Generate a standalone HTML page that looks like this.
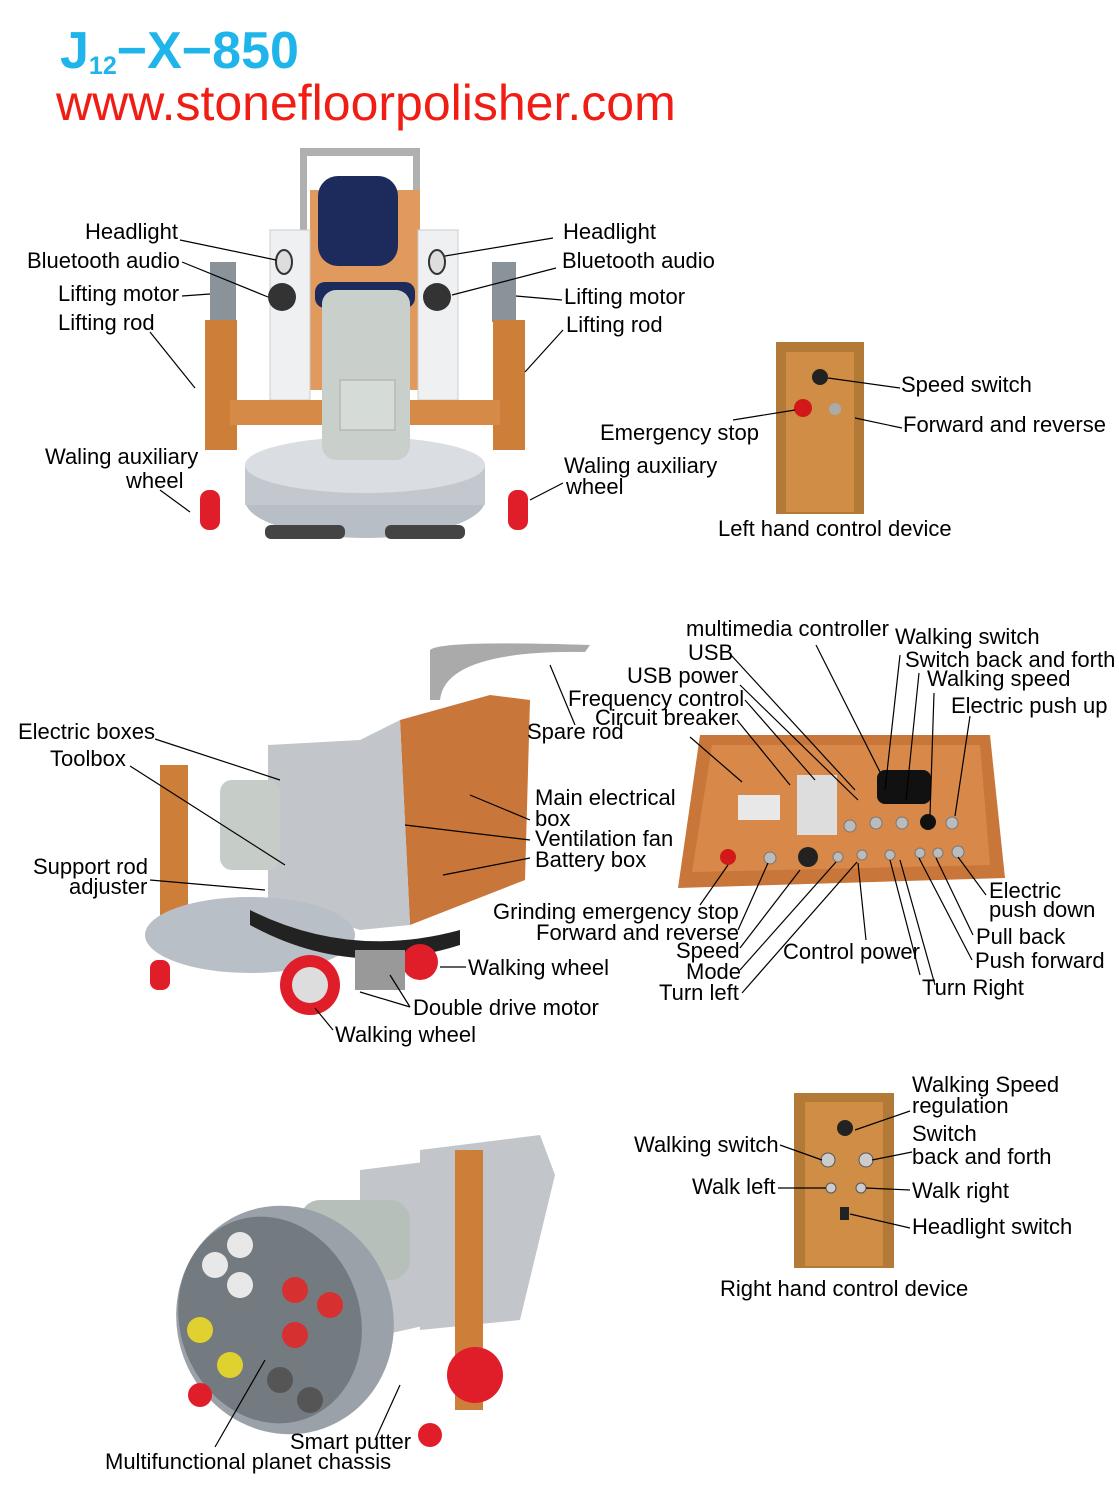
<!DOCTYPE html>
<html><head><meta charset="utf-8"><style>
html,body{margin:0;padding:0;background:#fff;}
svg{display:block;}
text{font-family:"Liberation Sans",Arial,sans-serif;font-size:22px;fill:#000;}
</style></head><body>
<svg width="1119" height="1486" viewBox="0 0 1119 1486" xmlns="http://www.w3.org/2000/svg">
<!-- title -->
<text x="60" y="68" style="font-size:52px;fill:#1fb5ea;font-weight:bold">J<tspan style="font-size:25px" dy="6">12</tspan><tspan dy="-6">−X−850</tspan></text>
<text x="56" y="120" style="font-size:50px;fill:#f01d14">www.stonefloorpolisher.com</text>

<!-- TOP MACHINE -->
<g>
<rect x="300" y="148" width="120" height="8" rx="4" fill="#b0b0b0"/>
<rect x="300" y="148" width="7" height="120" fill="#b0b0b0"/><rect x="413" y="148" width="7" height="120" fill="#b0b0b0"/>
<rect x="310" y="190" width="110" height="200" fill="#e09a5e"/>
<rect x="318" y="176" width="80" height="90" rx="20" fill="#1c2a5c"/>
<rect x="315" y="282" width="100" height="26" rx="10" fill="#1c2a5c"/>
<rect x="270" y="230" width="40" height="170" fill="#eef0f2" stroke="#ccc"/>
<rect x="418" y="230" width="40" height="170" fill="#eef0f2" stroke="#ccc"/>
<circle cx="282" cy="297" r="14" fill="#333"/><circle cx="437" cy="297" r="14" fill="#333"/>
<ellipse cx="284" cy="262" rx="8" ry="12" fill="#ddd" stroke="#333" stroke-width="2"/>
<ellipse cx="437" cy="262" rx="8" ry="12" fill="#ddd" stroke="#333" stroke-width="2"/>
<rect x="210" y="262" width="26" height="60" fill="#8a9399"/><rect x="492" y="262" width="24" height="60" fill="#8a9399"/>
<rect x="205" y="320" width="32" height="130" fill="#cd7f3a"/><rect x="493" y="320" width="32" height="130" fill="#cd7f3a"/>
<rect x="230" y="400" width="270" height="25" fill="#d58a48"/>
<ellipse cx="365" cy="500" rx="120" ry="38" fill="#b8bec5"/>
<rect x="245" y="465" width="240" height="40" fill="#c3c8ce"/>
<ellipse cx="365" cy="465" rx="120" ry="28" fill="#dadde1"/>
<rect x="322" y="290" width="88" height="170" rx="14" fill="#c9d0cb"/>
<rect x="340" y="380" width="55" height="50" fill="#d5dbd6" stroke="#aaa"/>
<rect x="265" y="525" width="80" height="14" rx="6" fill="#444"/><rect x="385" y="525" width="80" height="14" rx="6" fill="#444"/>
<rect x="200" y="490" width="20" height="40" rx="9" fill="#e01e2a"/><rect x="508" y="490" width="20" height="40" rx="9" fill="#e01e2a"/>
</g>

<!-- left hand control device -->
<rect x="776" y="342" width="88" height="172" fill="#b27a36"/>
<rect x="786" y="352" width="68" height="160" fill="#d08d45"/>
<circle cx="820" cy="377" r="8" fill="#222"/>
<circle cx="803" cy="408" r="9" fill="#d21818"/>
<circle cx="835" cy="409" r="6" fill="#aaa"/>

<!-- MIDDLE MACHINE -->
<g>
<path d="M430 650 Q440 640 590 645 L585 652 Q445 650 440 700 L430 700 Z" fill="#aaa"/>
<path d="M400 720 L490 695 L530 700 L525 880 L410 925 Z" fill="#c9763a"/>
<path d="M268 745 L360 740 L400 720 L410 925 L360 930 L268 900 Z" fill="#c2c6ca"/>
<rect x="220" y="780" width="60" height="90" rx="12" fill="#c6cdc8"/>
<rect x="160" y="765" width="28" height="180" fill="#cd7f3a"/>
<ellipse cx="250" cy="935" rx="105" ry="38" fill="#b9bfc6"/>
<path d="M250 910 Q350 960 460 930 L460 945 Q350 980 250 925 Z" fill="#222"/>
<circle cx="310" cy="985" r="30" fill="#e01e2a"/><circle cx="310" cy="985" r="18" fill="#ddd"/>
<circle cx="420" cy="962" r="18" fill="#e01e2a"/>
<rect x="355" y="950" width="50" height="40" fill="#999"/>
<rect x="150" y="960" width="20" height="30" rx="8" fill="#e01e2a"/>
</g>

<!-- control panel -->
<path d="M700 735 L990 735 L1005 878 L678 888 Z" fill="#c9763a"/>
<path d="M712 745 L980 745 L990 865 L692 872 Z" fill="#d8894a"/>
<rect x="738" y="795" width="42" height="25" fill="#e8e8e8"/>
<rect x="797" y="775" width="40" height="60" fill="#ddd"/>
<rect x="877" y="770" width="54" height="34" rx="8" fill="#111"/>
<circle cx="728" cy="857" r="8" fill="#d21818"/>
<circle cx="808" cy="857" r="10" fill="#222"/>
<circle cx="928" cy="822" r="8" fill="#111"/>
<g fill="#bbb" stroke="#777"><circle cx="770" cy="858" r="6"/><circle cx="850" cy="826" r="6"/><circle cx="876" cy="823" r="6"/><circle cx="902" cy="823" r="6"/><circle cx="952" cy="823" r="6"/><circle cx="838" cy="857" r="5"/><circle cx="862" cy="855" r="5"/><circle cx="890" cy="855" r="5"/><circle cx="920" cy="853" r="5"/><circle cx="938" cy="853" r="5"/><circle cx="958" cy="852" r="6"/></g>

<!-- BOTTOM MACHINE -->
<g>
<path d="M420 1150 L540 1135 L555 1175 L520 1320 L420 1330 Z" fill="#c2c6ca"/>
<path d="M360 1170 L440 1160 L450 1320 L360 1340 Z" fill="#c2c6ca"/>
<rect x="300" y="1200" width="110" height="80" rx="20" fill="#b7bfba"/>
<rect x="455" y="1150" width="28" height="260" fill="#cd7f3a"/>
<ellipse cx="285" cy="1320" rx="108" ry="115" fill="#9aa1a8" transform="rotate(-20 285 1320)"/>
<ellipse cx="270" cy="1320" rx="90" ry="105" fill="#737a80" transform="rotate(-20 270 1320)"/>
<g fill="#e8e8e8"><circle cx="215" cy="1265" r="13"/><circle cx="240" cy="1245" r="13"/><circle cx="240" cy="1285" r="13"/></g>
<g fill="#d63030"><circle cx="295" cy="1290" r="13"/><circle cx="330" cy="1305" r="13"/><circle cx="295" cy="1335" r="13"/></g>
<g fill="#e0d030"><circle cx="200" cy="1330" r="13"/><circle cx="230" cy="1365" r="13"/></g>
<g fill="#555"><circle cx="280" cy="1380" r="13"/><circle cx="310" cy="1400" r="13"/></g>
<circle cx="475" cy="1375" r="28" fill="#e01e2a"/>
<circle cx="200" cy="1395" r="12" fill="#e01e2a"/><circle cx="430" cy="1435" r="12" fill="#e01e2a"/>
</g>

<!-- right hand control device -->
<rect x="794" y="1093" width="100" height="175" fill="#b27a36"/>
<rect x="805" y="1102" width="78" height="164" fill="#d08d45"/>
<circle cx="845" cy="1128" r="8" fill="#222"/>
<g fill="#ccc" stroke="#555"><circle cx="828" cy="1160" r="7"/><circle cx="866" cy="1160" r="7"/><circle cx="831" cy="1188" r="5"/><circle cx="861" cy="1188" r="5"/></g>
<rect x="840" y="1207" width="9" height="13" fill="#222"/>

<!-- leader lines -->
<g stroke="#000" stroke-width="1.2" fill="none">
<path d="M180 240 L276 260"/><path d="M182 262 L268 297"/><path d="M182 296 L210 294"/><path d="M150 332 L195 388"/><path d="M160 490 L190 512"/>
<path d="M553 238 L445 256"/><path d="M556 268 L452 295"/><path d="M562 300 L516 296"/><path d="M563 330 L525 372"/><path d="M563 483 L530 500"/>
<path d="M733 420 L795 410"/><path d="M900 388 L828 378"/><path d="M902 428 L855 418"/>
<path d="M816 645 L880 772"/><path d="M900 655 L885 790"/><path d="M731 655 L855 790"/><path d="M919 673 L906 800"/><path d="M740 685 L858 800"/><path d="M934 693 L930 815"/><path d="M745 700 L815 780"/><path d="M737 720 L790 785"/><path d="M970 716 L955 816"/><path d="M690 737 L742 782"/>
<path d="M550 665 L575 725"/><path d="M155 739 L280 780"/><path d="M130 766 L285 865"/><path d="M470 795 L530 820"/><path d="M405 825 L530 840"/><path d="M443 875 L530 858"/>
<path d="M150 880 L265 890"/><path d="M700 905 L728 865"/><path d="M738 930 L768 863"/><path d="M740 948 L800 870"/><path d="M740 970 L836 862"/><path d="M742 993 L857 862"/><path d="M866 940 L858 863"/><path d="M920 975 L890 860"/><path d="M986 895 L958 857"/><path d="M973 935 L936 858"/><path d="M972 960 L919 858"/><path d="M935 985 L900 860"/>
<path d="M466 967 L440 967"/><path d="M410 1007 L360 992"/><path d="M410 1007 L390 975"/><path d="M333 1030 L315 1008"/>
<path d="M910 1111 L855 1130"/><path d="M780 1145 L822 1160"/><path d="M912 1152 L872 1160"/><path d="M778 1188 L826 1188"/><path d="M910 1190 L866 1188"/><path d="M910 1228 L850 1214"/>
<path d="M215 1447 L265 1360"/><path d="M375 1440 L400 1385"/>
</g>

<!-- labels -->
<text x="85" y="239">Headlight</text>
<text x="27" y="268">Bluetooth audio</text>
<text x="58" y="301">Lifting motor</text>
<text x="58" y="330">Lifting rod</text>
<text x="45" y="464">Waling auxiliary</text>
<text x="126" y="488">wheel</text>
<text x="563" y="239">Headlight</text>
<text x="562" y="268">Bluetooth audio</text>
<text x="564" y="304">Lifting motor</text>
<text x="566" y="332">Lifting rod</text>
<text x="564" y="473">Waling auxiliary</text>
<text x="566" y="494">wheel</text>
<text x="600" y="440">Emergency stop</text>
<text x="901" y="392">Speed switch</text>
<text x="903" y="432">Forward and reverse</text>
<text x="718" y="536">Left hand control device</text>
<text x="686" y="636">multimedia controller</text>
<text x="895" y="644">Walking switch</text>
<text x="688" y="660">USB</text>
<text x="905" y="667">Switch back and forth</text>
<text x="627" y="683">USB power</text>
<text x="927" y="686">Walking speed</text>
<text x="568" y="706">Frequency control</text>
<text x="595" y="725">Circuit breaker</text>
<text x="951" y="713">Electric push up</text>
<text x="18" y="739">Electric boxes</text>
<text x="527" y="739">Spare rod</text>
<text x="50" y="766">Toolbox</text>
<text x="535" y="805">Main electrical</text>
<text x="535" y="826">box</text>
<text x="535" y="846">Ventilation fan</text>
<text x="535" y="867">Battery box</text>
<text x="33" y="874">Support rod</text>
<text x="69" y="894">adjuster</text>
<text x="989" y="898">Electric</text>
<text x="989" y="917">push down</text>
<text x="493" y="919">Grinding emergency stop</text>
<text x="536" y="940">Forward and reverse</text>
<text x="676" y="958">Speed</text>
<text x="783" y="959">Control power</text>
<text x="976" y="944">Pull back</text>
<text x="468" y="975">Walking wheel</text>
<text x="686" y="979">Mode</text>
<text x="975" y="968">Push forward</text>
<text x="659" y="1000">Turn left</text>
<text x="922" y="995">Turn Right</text>
<text x="413" y="1015">Double drive motor</text>
<text x="335" y="1042">Walking wheel</text>
<text x="912" y="1092">Walking Speed</text>
<text x="912" y="1113">regulation</text>
<text x="634" y="1152">Walking switch</text>
<text x="912" y="1141">Switch</text>
<text x="912" y="1164">back and forth</text>
<text x="692" y="1194">Walk left</text>
<text x="912" y="1198">Walk right</text>
<text x="912" y="1234">Headlight switch</text>
<text x="720" y="1296">Right hand control device</text>
<text x="290" y="1449">Smart putter</text>
<text x="105" y="1469">Multifunctional planet chassis</text>
</svg>
</body></html>
